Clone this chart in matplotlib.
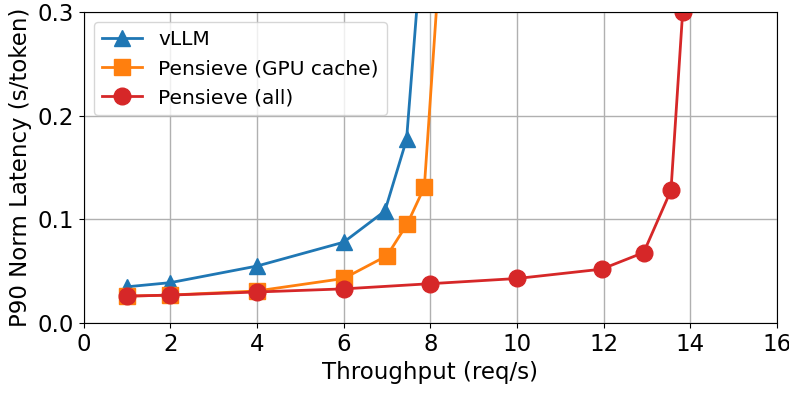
import matplotlib
matplotlib.use("Agg")
from matplotlib import pyplot as plt

# throughput (req/s) and p90 normalized latency (s/token)
vllm_x = [1, 2, 4, 6, 6.95, 7.45, 8.0]
vllm_y = [0.035, 0.039, 0.055, 0.078, 0.108, 0.177, 0.47]

gpu_x = [1, 2, 4, 6, 7.0, 7.47, 7.86, 8.25]
gpu_y = [0.026, 0.027, 0.031, 0.043, 0.065, 0.096, 0.131, 0.37]

all_x = [1, 2, 4, 6, 8, 10, 11.95, 12.92, 13.55, 13.82]
all_y = [0.026, 0.027, 0.030, 0.033, 0.038, 0.043, 0.052, 0.068, 0.128, 0.300]

fig = plt.figure(figsize=(7.89, 3.95), dpi=100)
ax = fig.add_axes([0.106, 0.182, 0.879, 0.788])

ax.plot(vllm_x, vllm_y, marker='^', color='tab:blue', lw=2, ms=12, label='vLLM')
ax.plot(gpu_x, gpu_y, marker='s', color='tab:orange', lw=2, ms=12, label='Pensieve (GPU cache)')
ax.plot(all_x, all_y, marker='o', color='tab:red', lw=2, ms=12, label='Pensieve (all)')

ax.set_xlim(0, 16)
ax.set_ylim(0, 0.3)
ax.set_xticks(range(0, 17, 2))
ax.set_yticks([0.0, 0.1, 0.2, 0.3])
ax.tick_params(labelsize=16.5)
ax.set_xlabel('Throughput (req/s)', fontsize=16.5)
ax.set_ylabel('P90 Norm Latency (s/token)', fontsize=16.5)
ax.grid(True, color='#b0b0b0', lw=1)
ax.legend(loc='upper left', fontsize=14.5)

fig.savefig('out.png', dpi=100)
